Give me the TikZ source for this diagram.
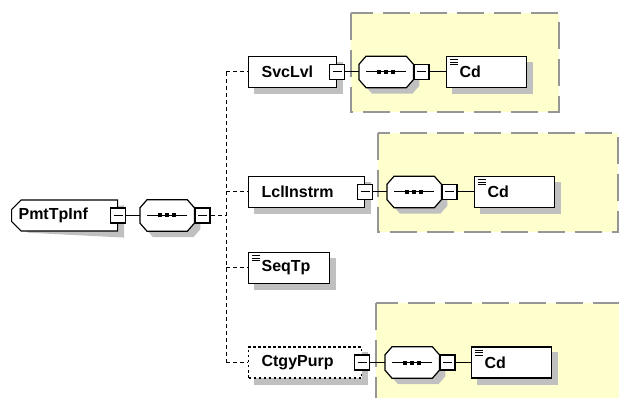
\documentclass[tikz,border=0pt]{standalone}
\usepackage{fontspec}
\setmainfont{Liberation Sans}
\usetikzlibrary{shapes.misc}
\definecolor{ombre}{RGB}{192,192,192}
\definecolor{jaune}{RGB}{255,255,206}
\definecolor{grisbord}{RGB}{150,150,150}
\pgfdeclarelayer{fond}
\pgfdeclarelayer{ombres}
\pgfsetlayers{fond,ombres,main}
\begin{document}
\begin{tikzpicture}[x=1pt,y=-1pt]
	\tikzstyle{boite}=[draw,line width=1.2pt,fill=white,minimum height=31pt,inner xsep=13pt,inner ysep=0pt,align=left,anchor=west,font=\bfseries\fontsize{16}{19}\selectfont]
	\tikzstyle{simple}=[boite,path picture={\foreach \k in {0,1,2} \draw[line width=0.8pt] ([xshift=3pt,yshift={-3pt-2.5pt*\k}]path picture bounding box.north west) -- ++(8pt,0);}]
	\tikzstyle{moins}=[draw,line width=1.2pt,fill=white,minimum size=15pt,inner sep=0pt,path picture={\draw[line width=1pt] ([xshift=3pt]path picture bounding box.west) -- ([xshift=-3pt]path picture bounding box.east);}]
	\tikzstyle{sequence}=[rectangle,minimum width=54pt,minimum height=31pt,inner sep=0pt,anchor=west]
	\tikzstyle{octo}=[draw,line width=1.2pt,fill=white]
	\tikzstyle{tirets}=[line width=1pt,dash pattern=on 4pt off 3pt]
	\tikzstyle{lien}=[line width=1pt]
	\tikzstyle{cadre}=[fill=jaune,draw=grisbord,line width=1.3pt,dash pattern=on 27pt off 10pt]
	\def\Fourche{226}
	\def\Pan{7pt}
	\def\Ombre{(6pt,-6pt)}
	\def\Octogone#1#2{([shift={#2},xshift=\Pan]#1.north west) -- ([shift={#2},xshift=-\Pan]#1.north east) -- ([shift={#2},yshift=-8pt]#1.north east) -- ([shift={#2},yshift=8pt]#1.south east) -- ([shift={#2},xshift=-\Pan]#1.south east) -- ([shift={#2},xshift=\Pan]#1.south west) -- ([shift={#2},yshift=8pt]#1.south west) -- ([shift={#2},yshift=-8pt]#1.north west) -- cycle}
	\clip (0,0) rectangle (619,398);
	% racine
	\node[boite,chamfered rectangle,chamfered rectangle corners={north west,south west},chamfered rectangle xsep=6pt,inner xsep=1pt,text width=92pt] (R) at (11,215.5) {PmtTpInf};
	\node[moins] (Rm) at (R.east) {};
	\node[sequence] (Rs) at (140,215.5) {};
	\node[moins,anchor=west] (Rsm) at (Rs.east) {};
	\coordinate (F) at (\Fourche,215.5);
	% SvcLvl
	\node[boite,text width=62pt] (Ra) at (248,72) {SvcLvl};
	\node[moins] (Ram) at (Ra.east) {};
	\node[sequence] (Ras) at (359,72) {};
	\node[moins,anchor=west] (Rasm) at (Ras.east) {};
	\node[simple,text width=54pt] (Raa) at (446,72) {Cd};
	% LclInstrm
	\node[boite,text width=90pt] (Rb) at (248,192) {LclInstrm};
	\node[moins] (Rbm) at (Rb.east) {};
	\node[sequence] (Rbs) at (387,192) {};
	\node[moins,anchor=west] (Rbsm) at (Rbs.east) {};
	\node[simple,text width=54pt] (Rba) at (474,192) {Cd};
	% SeqTp
	\node[simple,text width=55pt] (Rc) at (248,268) {SeqTp};
	% CtgyPurp
	\node[boite,dash pattern=on 2.5pt off 2.5pt,text width=87pt] (Rd) at (248,362.5) {CtgyPurp};
	\node[moins] (Rdm) at (Rd.east) {};
	\node[sequence] (Rds) at (385,362.5) {};
	\node[moins,anchor=west] (Rdsm) at (Rds.east) {};
	\node[simple,text width=54pt] (Rda) at (471,362.5) {Cd};
	% octogones des sequences
	\foreach \s in {Rs,Ras,Rbs,Rds} {
		\draw[octo] \Octogone{\s}{(0,0)};
		\draw[lien] ([xshift=-20pt]\s.center) -- ([xshift=20pt]\s.center);
		\foreach \d in {-7,0,7} \fill ([xshift=\d*1pt]\s.center) +(-2pt,-2pt) rectangle +(2pt,2pt);
	}
	% cadres jaunes et ombres
	\begin{pgfonlayer}{fond}
		\draw[cadre] (351,13) rectangle (559,112);
		\draw[cadre] (378,133) rectangle (618,232);
		\draw[cadre] (376,303) rectangle (640,420);
	\end{pgfonlayer}
	\begin{pgfonlayer}{ombres}
		\foreach \n in {Ra,Raa,Rb,Rba,Rc,Rd,Rda} \fill[ombre] ([shift=\Ombre]\n.north west) rectangle ([shift=\Ombre]\n.south east);
		\foreach \s in {Rs,Ras,Rbs,Rds} \fill[ombre] \Octogone{\s}{\Ombre};
		\fill[ombre] ([shift=\Ombre,xshift=6pt]R.north west) -- ([shift=\Ombre]R.north east) -- ([shift=\Ombre]R.south east) -- ([shift=\Ombre,xshift=6pt]R.south west) -- ([shift=\Ombre,yshift=6pt]R.south west) -- ([shift=\Ombre,yshift=-6pt]R.north west) -- cycle;
	\end{pgfonlayer}
	% liens
	\draw[lien] (Rm) -- (Rs);
	\draw[tirets] (Rsm) -- (F);
	\draw[tirets] (F |- Ra.west) -- (F |- Rd.west);
	\foreach \n in {Ra,Rb,Rc,Rd} \draw[tirets] (F |- \n.west) -- (\n);
	\draw[lien] (Ram) -- (Ras);
	\draw[lien] (Rasm) -- (Raa);
	\draw[lien] (Rbm) -- (Rbs);
	\draw[lien] (Rbsm) -- (Rba);
	\draw[lien] (Rdm) -- (Rds);
	\draw[lien] (Rdsm) -- (Rda);
\end{tikzpicture}
\end{document}
